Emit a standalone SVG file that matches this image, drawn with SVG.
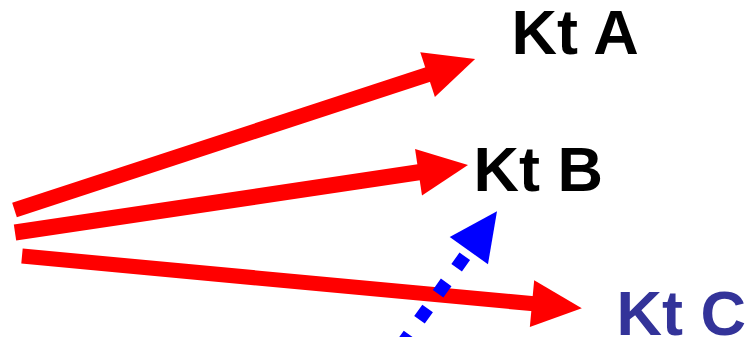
<svg xmlns="http://www.w3.org/2000/svg" width="750" height="337" viewBox="0 0 750 337">
  <style>
    .red { stroke: #ff0000; stroke-width: 15; fill: none; marker-end: url(#headRed); }
    .blue { stroke: #0000ff; stroke-width: 13; fill: none; stroke-dasharray: 14 18; stroke-dashoffset: 23; marker-start: url(#headBlue); }
    .lbl { font-family: "Liberation Sans", Arial, sans-serif; font-weight: bold; font-size: 63px; }
  </style>
  <defs>
    <marker id="headRed" markerUnits="userSpaceOnUse" viewBox="0 -24 50 48" refX="2" refY="0" markerWidth="50" markerHeight="48" orient="auto" overflow="visible">
      <path d="M0,-23.5 L50,0 L0,23.5 Z" fill="#ff0000"/>
    </marker>
    <marker id="headBlue" markerUnits="userSpaceOnUse" viewBox="0 -24 50 48" refX="2" refY="0" markerWidth="50" markerHeight="48" orient="auto-start-reverse" overflow="visible">
      <path d="M0,-23.5 L48.5,0 L0,23.5 Z" fill="#0000ff"/>
    </marker>
  </defs>

  <g id="connectors">
    <line class="red" x1="14.5" y1="210" x2="429.5" y2="74"/>
    <line class="red" x1="15" y1="232.5" x2="420.5" y2="172" style="stroke-width:16"/>
    <line class="red" x1="22" y1="256" x2="534" y2="303.8"/>
    <line class="blue" x1="470" y1="249" x2="388" y2="364"/>
  </g>

  <g id="kt-a">
    <text class="lbl" x="511.5" y="54" fill="#000000">Kt A</text>
  </g>
  <g id="kt-b">
    <text class="lbl" x="473.5" y="191" fill="#000000">Kt B</text>
  </g>
  <g id="kt-c">
    <text class="lbl" x="616.5" y="335" fill="#333399">Kt C</text>
  </g>
</svg>
